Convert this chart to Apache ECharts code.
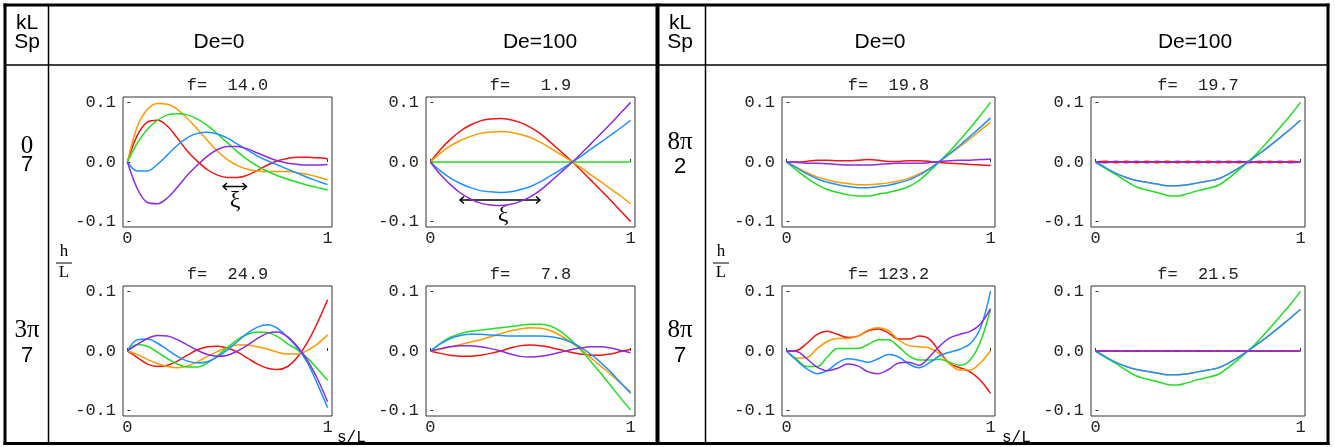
<!DOCTYPE html>
<html>
<head>
<meta charset="utf-8">
<script src="https://cdn.jsdelivr.net/npm/echarts@6/dist/echarts.min.js"></script>
<style>
  html, body { margin: 0; background: #fff; }
  #chart { width: 1335px; height: 447px; }
</style>
</head>
<body>
<div id="chart"></div>
<script>
// s/L sample positions (shared by every curve)
var sL = [0, 0.05, 0.1, 0.15, 0.2, 0.25, 0.3, 0.35, 0.4, 0.45, 0.5,
          0.55, 0.6, 0.65, 0.7, 0.75, 0.8, 0.85, 0.9, 0.95, 1];

// curve colours, drawn in this order in every panel
var curveColors = ["#f01414", "#ff9a00", "#22dd22", "#1e90ff", "#8b2be2"];

// panel headings
var deLabels = ["De=0", "De=100"];
var fValues = ["14.0", "1.9", "24.9", "7.8", "19.8", "19.7", "123.2", "21.5"];

// h/L values per panel: [red, orange, green, blue, purple]
// kL=0, Sp=7, De=0
var p1 = [
  [0, 0.045, 0.067, 0.07, 0.06, 0.04, 0.018, 0.001, -0.013, -0.022, -0.026, -0.026, -0.022, -0.014, -0.005, 0.002, 0.006, 0.008, 0.008, 0.007, 0.0055],
  [0, 0.06, 0.088, 0.098, 0.097, 0.088, 0.073, 0.055, 0.036, 0.018, 0.004, -0.006, -0.012, -0.015, -0.016, -0.016, -0.016, -0.018, -0.021, -0.025, -0.03],
  [0, 0.032, 0.055, 0.07, 0.079, 0.081, 0.079, 0.072, 0.061, 0.047, 0.032, 0.017, 0.004, -0.007, -0.016, -0.023, -0.029, -0.034, -0.039, -0.043, -0.047],
  [0, -0.015, -0.015, -0.004, 0.012, 0.028, 0.041, 0.048, 0.05, 0.047, 0.04, 0.03, 0.02, 0.01, 0.002, -0.005, -0.012, -0.019, -0.026, -0.032, -0.038],
  [0, -0.045, -0.068, -0.07, -0.06, -0.042, -0.022, -0.005, 0.01, 0.021, 0.026, 0.026, 0.022, 0.015, 0.008, 0.002, -0.002, -0.004, -0.005, -0.005, -0.004]
];
// kL=0, Sp=7, De=100
var p2 = [
  [0, 0.021, 0.038, 0.052, 0.062, 0.069, 0.072, 0.073, 0.071, 0.066, 0.058, 0.047, 0.033, 0.018, 0.003, -0.013, -0.03, -0.047, -0.064, -0.082, -0.1],
  [0, 0.015, 0.027, 0.036, 0.043, 0.048, 0.05, 0.051, 0.05, 0.046, 0.041, 0.033, 0.023, 0.013, 0.002, -0.009, -0.021, -0.033, -0.045, -0.057, -0.07],
  [0, 0, 0, 0, 0, 0, 0, 0, 0, 0, 0, 0, 0, 0, 0, 0, 0, 0, 0, 0, 0],
  [0, -0.015, -0.027, -0.036, -0.043, -0.048, -0.05, -0.051, -0.05, -0.046, -0.041, -0.033, -0.023, -0.013, -0.002, 0.009, 0.021, 0.033, 0.045, 0.057, 0.07],
  [0, -0.021, -0.038, -0.052, -0.062, -0.069, -0.072, -0.073, -0.071, -0.066, -0.058, -0.047, -0.033, -0.018, -0.003, 0.013, 0.03, 0.047, 0.064, 0.082, 0.1]
];
// kL=3pi, Sp=7, De=0
var p3 = [
  [0, -0.011, -0.022, -0.026, -0.024, -0.017, -0.007, 0.002, 0.007, 0.008, 0.005, -0.002, -0.012, -0.022, -0.029, -0.031, -0.026, -0.01, 0.015, 0.048, 0.086],
  [0, -0.006, -0.014, -0.021, -0.026, -0.028, -0.025, -0.018, -0.009, -0.001, 0.006, 0.01, 0.01, 0.007, 0.003, -0.002, -0.005, -0.005, 0.001, 0.012, 0.027],
  [0, 0.011, 0.008, -0.002, -0.013, -0.022, -0.027, -0.027, -0.02, -0.008, 0.006, 0.019, 0.028, 0.032, 0.031, 0.024, 0.012, 0.002, -0.012, -0.03, -0.049],
  [0, 0.019, 0.02, 0.013, 0.002, -0.009, -0.017, -0.02, -0.018, -0.01, 0.002, 0.016, 0.03, 0.04, 0.044, 0.038, 0.023, 0.005, -0.02, -0.056, -0.095],
  [0, 0.011, 0.021, 0.026, 0.025, 0.019, 0.01, 0.001, -0.006, -0.009, -0.007, 0, 0.01, 0.021, 0.03, 0.032, 0.024, 0.007, -0.016, -0.047, -0.085]
];
// kL=3pi, Sp=7, De=100
var p4 = [
  [0, -0.004, -0.007, -0.009, -0.009, -0.007, -0.004, 0, 0.005, 0.009, 0.01, 0.009, 0.006, 0.002, -0.002, -0.005, -0.007, -0.007, -0.005, -0.001, 0.003],
  [0, 0.003, 0.007, 0.011, 0.015, 0.019, 0.024, 0.029, 0.034, 0.037, 0.039, 0.038, 0.034, 0.026, 0.015, 0.003, -0.011, -0.025, -0.039, -0.054, -0.068],
  [0, 0.013, 0.023, 0.029, 0.033, 0.035, 0.037, 0.039, 0.041, 0.043, 0.045, 0.045, 0.042, 0.033, 0.019, 0.002, -0.017, -0.037, -0.058, -0.079, -0.099],
  [0, 0.012, 0.021, 0.026, 0.028, 0.028, 0.027, 0.026, 0.025, 0.025, 0.025, 0.025, 0.024, 0.021, 0.015, 0.006, -0.005, -0.019, -0.035, -0.053, -0.071],
  [0, 0.004, 0.007, 0.009, 0.009, 0.007, 0.004, 0, -0.005, -0.009, -0.01, -0.009, -0.006, -0.002, 0.002, 0.005, 0.007, 0.007, 0.005, 0.001, -0.003]
];
// kL=8pi, Sp=2, De=0
var p5 = [
  [0, 0, 0.001, 0.003, 0.003, 0.002, 0.002, 0.003, 0.004, 0.003, 0.001, 0.001, 0.002, 0.002, 0.001, -0.001, -0.002, -0.003, -0.004, -0.005, -0.006],
  [0, -0.009, -0.018, -0.025, -0.03, -0.034, -0.036, -0.038, -0.038, -0.037, -0.035, -0.032, -0.027, -0.02, -0.011, 0.001, 0.013, 0.026, 0.039, 0.053, 0.067],
  [0, -0.014, -0.027, -0.038, -0.046, -0.051, -0.055, -0.057, -0.057, -0.054, -0.051, -0.047, -0.041, -0.031, -0.016, 0.001, 0.018, 0.037, 0.057, 0.078, 0.1],
  [0, -0.01, -0.02, -0.028, -0.034, -0.038, -0.041, -0.043, -0.043, -0.041, -0.039, -0.035, -0.03, -0.022, -0.012, 0.001, 0.014, 0.028, 0.043, 0.058, 0.074],
  [0, -0.001, -0.002, -0.002, -0.003, -0.004, -0.005, -0.005, -0.005, -0.004, -0.003, -0.002, -0.002, -0.002, -0.001, 0.001, 0.002, 0.003, 0.003, 0.004, 0.005]
];
// kL=8pi, Sp=2, De=100
var p6 = [
  [0, 0.0012, -0.0012, 0.0012, -0.0012, 0.0012, -0.0012, 0.0012, -0.0012, 0.0012, -0.0012, 0.0012, -0.0012, 0.0012, -0.0012, 0.0012, -0.0012, 0.0012, -0.0012, 0.0012, 0],
  [0, -0.01, -0.019, -0.026, -0.031, -0.034, -0.037, -0.04, -0.04, -0.038, -0.035, -0.032, -0.028, -0.02, -0.01, 0.002, 0.014, 0.027, 0.041, 0.055, 0.07],
  [0, -0.011, -0.021, -0.032, -0.042, -0.047, -0.051, -0.056, -0.057, -0.053, -0.048, -0.044, -0.039, -0.027, -0.013, 0.002, 0.019, 0.038, 0.058, 0.078, 0.1],
  [0, -0.01, -0.019, -0.026, -0.031, -0.034, -0.037, -0.04, -0.04, -0.038, -0.035, -0.032, -0.028, -0.02, -0.01, 0.002, 0.014, 0.027, 0.041, 0.055, 0.07],
  [0, -0.0012, 0.0012, -0.0012, 0.0012, -0.0012, 0.0012, -0.0012, 0.0012, -0.0012, 0.0012, -0.0012, 0.0012, -0.0012, 0.0012, -0.0012, 0.0012, -0.0012, 0.0012, -0.0012, 0]
];
// kL=8pi, Sp=7, De=0
var p7 = [
  [0, 0.001, 0.013, 0.028, 0.033, 0.028, 0.0225, 0.025, 0.034, 0.037, 0.03, 0.02, 0.02, 0.025, 0.02, -0.001, -0.021, -0.028, -0.035, -0.049, -0.071],
  [0, -0.012, -0.011, 0.004, 0.016, 0.021, 0.021, 0.025, 0.035, 0.039, 0.034, 0.018, 0.009, 0.007, 0.005, -0.005, -0.022, -0.032, -0.032, -0.02, 0],
  [0, -0.014, -0.026, -0.026, -0.01, 0.004, 0.004, 0.004, 0.011, 0.019, 0.019, 0.007, -0.008, -0.015, -0.015, -0.014, -0.019, -0.024, -0.015, 0.015, 0.07],
  [0, -0.016, -0.03, -0.038, -0.033, -0.02, -0.013, -0.015, -0.019, -0.013, -0.006, -0.01, -0.022, -0.028, -0.02, -0.008, -0.002, 0.003, 0.012, 0.038, 0.1],
  [0, -0.001, -0.013, -0.027, -0.033, -0.029, -0.022, -0.025, -0.035, -0.038, -0.031, -0.02, -0.019, -0.024, -0.01, 0.008, 0.022, 0.028, 0.033, 0.045, 0.071]
];
// kL=8pi, Sp=7, De=100
var p8 = [
  [0, 0.0006, -0.0006, 0.0006, -0.0006, 0.0006, -0.0006, 0.0006, -0.0006, 0.0006, -0.0006, 0.0006, -0.0006, 0.0006, -0.0006, 0.0006, -0.0006, 0.0006, -0.0006, 0.0006, 0],
  [0, -0.01, -0.019, -0.026, -0.031, -0.034, -0.037, -0.04, -0.04, -0.038, -0.035, -0.032, -0.028, -0.02, -0.01, 0.002, 0.014, 0.027, 0.041, 0.055, 0.07],
  [0, -0.011, -0.021, -0.032, -0.042, -0.047, -0.051, -0.056, -0.057, -0.053, -0.048, -0.044, -0.039, -0.027, -0.013, 0.002, 0.019, 0.038, 0.058, 0.078, 0.1],
  [0, -0.01, -0.019, -0.026, -0.031, -0.034, -0.037, -0.04, -0.04, -0.038, -0.035, -0.032, -0.028, -0.02, -0.01, 0.002, 0.014, 0.027, 0.041, 0.055, 0.07],
  [0, -0.0006, 0.0006, -0.0006, 0.0006, -0.0006, 0.0006, -0.0006, 0.0006, -0.0006, 0.0006, -0.0006, 0.0006, -0.0006, 0.0006, -0.0006, 0.0006, -0.0006, 0.0006, -0.0006, 0]
];
var panels = [p1, p2, p3, p4, p5, p6, p7, p8];

// frame boxes of the 8 small plots
var boxes = [
  { left: 123, top: 97, width: 209 },
  { left: 426, top: 97, width: 209 },
  { left: 123, top: 286, width: 209 },
  { left: 426, top: 286, width: 209 },
  { left: 782, top: 97, width: 213 },
  { left: 1091, top: 97, width: 214 },
  { left: 782, top: 286, width: 213 },
  { left: 1091, top: 286, width: 214 }
];

var MONO = '"Liberation Mono", "DejaVu Sans Mono", monospace';
var SANS = '"Liberation Sans", Arial, sans-serif';
var SERIF = '"Liberation Serif", "DejaVu Serif", serif';

var grids = [], xAxes = [], yAxes = [], series = [], graphics = [];

boxes.forEach(function (b, i) {
  grids.push({
    left: b.left, top: b.top, width: b.width, height: 130,
    show: true, borderColor: "#333", borderWidth: 1, backgroundColor: "transparent"
  });
  xAxes.push({
    type: "value", gridIndex: i, min: -0.022, max: 1.022,
    axisLine: { show: false }, splitLine: { show: false },
    axisTick: { show: true, inside: true, length: 3, customValues: [0, 1], lineStyle: { color: "#333" } },
    axisLabel: { customValues: [0, 1], margin: 3, color: "#222", fontFamily: MONO, fontSize: 17 }
  });
  yAxes.push({
    type: "value", gridIndex: i, min: -0.109, max: 0.109,
    axisLine: { show: false }, splitLine: { show: false },
    axisTick: { show: true, inside: true, length: 3, customValues: [-0.1, 0, 0.1], lineStyle: { color: "#333" } },
    axisLabel: {
      customValues: [-0.1, 0, 0.1], margin: 7, color: "#222", fontFamily: MONO, fontSize: 17,
      formatter: function (v) { return v.toFixed(1); }
    }
  });
  panels[i].forEach(function (curve, k) {
    series.push({
      type: "line", xAxisIndex: i, yAxisIndex: i, silent: true,
      symbol: "none", smooth: 0.35,
      lineStyle: { color: curveColors[k], width: 1.5 },
      data: sL.map(function (s, j) { return [s, curve[j]]; })
    });
  });
  var fStr = fValues[i];
  while (fStr.length < 6) fStr = " " + fStr;
  graphics.push({
    type: "text", x: b.left + b.width / 2, y: b.top - 12,
    style: { text: "f=" + fStr, font: "17px " + MONO, fill: "#222", textAlign: "center", textVerticalAlign: "middle" }
  });
});

function hline(x1, x2, y, w) {
  return { type: "line", shape: { x1: x1, y1: y, x2: x2, y2: y }, style: { stroke: "#000", lineWidth: w } };
}
function vline(x, y1, y2, w) {
  return { type: "line", shape: { x1: x, y1: y1, x2: x, y2: y2 }, style: { stroke: "#000", lineWidth: w } };
}
function txt(x, y, s, font, align) {
  return { type: "text", x: x, y: y, style: { text: s, font: font, fill: "#000", textAlign: align || "center", textVerticalAlign: "middle" } };
}

// table rules
graphics.push(hline(3.5, 1329.5, 5, 3));
graphics.push(hline(3.5, 1329.5, 443.5, 3));
graphics.push(vline(5, 3.5, 445, 3));
graphics.push(vline(1328, 3.5, 445, 3));
graphics.push(vline(657.5, 3.5, 445, 4));
graphics.push(hline(5, 657, 65, 1.5));
graphics.push(hline(658, 1328, 65, 1.5));
graphics.push(vline(48.5, 5, 443, 1.5));
graphics.push(vline(705.5, 5, 443, 1.5));

// header cells
[27, 680].forEach(function (cx) {
  graphics.push(txt(cx, 23, "kL", "21px " + SANS));
  graphics.push(txt(cx, 42, "Sp", "21px " + SANS));
});
graphics.push(txt(219, 42, deLabels[0], "21px " + SANS));
graphics.push(txt(540, 42, deLabels[1], "21px " + SANS));
graphics.push(txt(880, 42, deLabels[0], "21px " + SANS));
graphics.push(txt(1195, 42, deLabels[1], "21px " + SANS));

// row labels (kL over Sp)
graphics.push(txt(27, 146, "0", "25px " + SERIF));
graphics.push(txt(27, 165, "7", "22px " + SANS));
graphics.push(txt(27, 330, "3\u03c0", "25px " + SERIF));
graphics.push(txt(27, 356, "7", "22px " + SANS));
graphics.push(txt(680, 142, "8\u03c0", "25px " + SERIF));
graphics.push(txt(680, 167, "2", "22px " + SANS));
graphics.push(txt(680, 330, "8\u03c0", "25px " + SERIF));
graphics.push(txt(680, 356, "7", "22px " + SANS));

// h/L axis name
[64, 721].forEach(function (cx) {
  graphics.push(txt(cx, 252, "h", "17px " + SERIF));
  graphics.push(hline(cx - 8, cx + 8, 263, 1));
  graphics.push(txt(cx, 273, "L", "17px " + SERIF));
});
// s/L axis name
graphics.push(txt(337, 438, "s/L", "16px " + MONO, "left"));
graphics.push(txt(1002, 438, "s/L", "16px " + MONO, "left"));

// xi arrows
function xiArrow(x1, x2, y, tx, ty) {
  var st = { stroke: "#000", lineWidth: 1.5, fill: null };
  graphics.push({ type: "line", shape: { x1: x1, y1: y, x2: x2, y2: y }, style: st });
  graphics.push({ type: "polyline", shape: { points: [[x1 + 4, y - 3.5], [x1, y], [x1 + 4, y + 3.5]] }, style: st });
  graphics.push({ type: "polyline", shape: { points: [[x2 - 4, y - 3.5], [x2, y], [x2 - 4, y + 3.5]] }, style: st });
  graphics.push(txt(tx, ty, "\u03be", "24px " + SERIF));
}
xiArrow(223, 246.5, 186.5, 235, 201);
xiArrow(460, 540, 200, 503, 215);

var chart = echarts.init(document.getElementById("chart"));
chart.setOption({
  animation: false,
  backgroundColor: "#fff",
  grid: grids,
  xAxis: xAxes,
  yAxis: yAxes,
  series: series,
  graphic: { elements: graphics }
});
</script>
</body>
</html>
